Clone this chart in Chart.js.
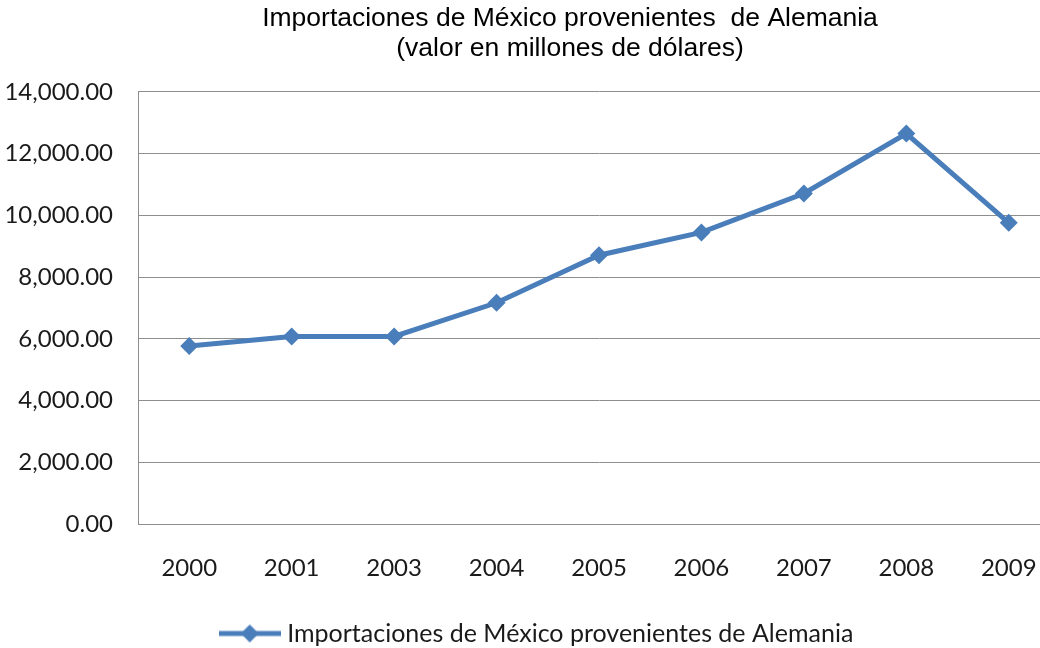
<!DOCTYPE html>
<html>
<head>
<meta charset="utf-8">
<script src="https://cdn.jsdelivr.net/npm/chart.js@4"></script>
<style>
  html, body { margin: 0; padding: 0; background: #ffffff; width: 1040px; height: 648px; overflow: hidden; }
  canvas { display: block; }
</style>
</head>
<body>
<canvas id="chart" width="1140" height="648"></canvas>
<script>
// Import values from Germany, millions of US dollars
const years = ['2000', '2001', '2003', '2004', '2005', '2006', '2007', '2008', '2009'];
const imports = [5770, 6080, 6080, 7170, 8710, 9450, 10710, 12650, 9760];
const seriesName = 'Importaciones de México provenientes de Alemania';
const titleLines = ['Importaciones de México provenientes  de Alemania', '(valor en millones de dólares)'];
const yMin = 0;
const yMax = 14000;
const yStep = 2000;

const lineColor = '#4a7ebb';
const gridColor = '#8e8e8e';
const labelFont = { family: 'Lato, "Open Sans", sans-serif', size: 24, lineHeight: 1.2 };
const legendFont = { family: 'Lato, "Open Sans", sans-serif', size: 25, lineHeight: 1.2 };

// Legend symbol: a line segment with a diamond marker in its middle
function legendSymbol() {
  const c = document.createElement('canvas');
  c.width = 62; c.height = 20;
  const g = c.getContext('2d');
  g.strokeStyle = lineColor;
  g.lineWidth = 5;
  g.beginPath(); g.moveTo(0, 10); g.lineTo(62, 10); g.stroke();
  g.fillStyle = lineColor;
  g.beginPath(); g.moveTo(31, 1); g.lineTo(40, 10); g.lineTo(31, 19); g.lineTo(22, 10); g.closePath(); g.fill();
  return c;
}
const symbol = legendSymbol();

// Moves the title and legend boxes to their final spots after layout
const boxNudge = {
  id: 'boxNudge',
  afterLayout(chart) {
    const t = chart.titleBlock;
    if (t) { t.left += 40; t.right += 40; }
    const l = chart.legend;
    if (l) { l.left += 9; l.right += 9; l.top += 8; l.bottom += 8; }
  }
};

new Chart(document.getElementById('chart'), {
  type: 'line',
  data: {
    labels: years,
    datasets: [{
      label: seriesName,
      data: imports,
      borderColor: lineColor,
      backgroundColor: lineColor,
      borderWidth: 5,
      pointStyle: 'rectRot',
      pointRadius: 9,
      pointHoverRadius: 9,
      pointBorderWidth: 0,
      pointBackgroundColor: lineColor,
      tension: 0,
      fill: false
    }]
  },
  options: {
    responsive: false,
    animation: false,
    devicePixelRatio: 1,
    layout: { padding: { left: 0, right: 80, top: 0, bottom: 0 } },
    plugins: {
      title: {
        display: true,
        text: titleLines,
        color: '#000000',
        font: { family: '"Liberation Sans", Arial, sans-serif', size: 26.5, weight: 'normal', lineHeight: 1.13 },
        padding: { top: 4, bottom: 28 }
      },
      legend: {
        display: true,
        position: 'bottom',
        labels: {
          color: '#1a1a1a',
          font: legendFont,
          usePointStyle: true,
          pointStyle: symbol,
          pointStyleWidth: 50,
          padding: 0,
          generateLabels(chart) {
            return chart.data.datasets.map((ds, i) => ({
              text: ds.label,
              pointStyle: symbol,
              fillStyle: lineColor,
              strokeStyle: lineColor,
              lineWidth: 0,
              hidden: false,
              datasetIndex: i,
              fontColor: '#1a1a1a'
            }));
          }
        }
      },
      tooltip: { enabled: false }
    },
    scales: {
      x: {
        offset: true,
        grid: { display: false, drawTicks: false },
        border: { display: true, color: gridColor, width: 1 },
        ticks: { color: '#1a1a1a', font: labelFont, padding: 30, maxRotation: 0, autoSkip: false }
      },
      y: {
        min: yMin,
        max: yMax,
        grid: { color: gridColor, lineWidth: 1, drawTicks: false },
        border: { display: true, color: gridColor, width: 1 },
        ticks: {
          stepSize: yStep,
          color: '#1a1a1a',
          font: labelFont,
          padding: 25,
          callback: v => Number(v).toLocaleString('en-US', { minimumFractionDigits: 2, maximumFractionDigits: 2 })
        },
        afterFit(scale) { scale.width = 138; }
      }
    }
  },
  plugins: [boxNudge]
});
</script>
</body>
</html>
